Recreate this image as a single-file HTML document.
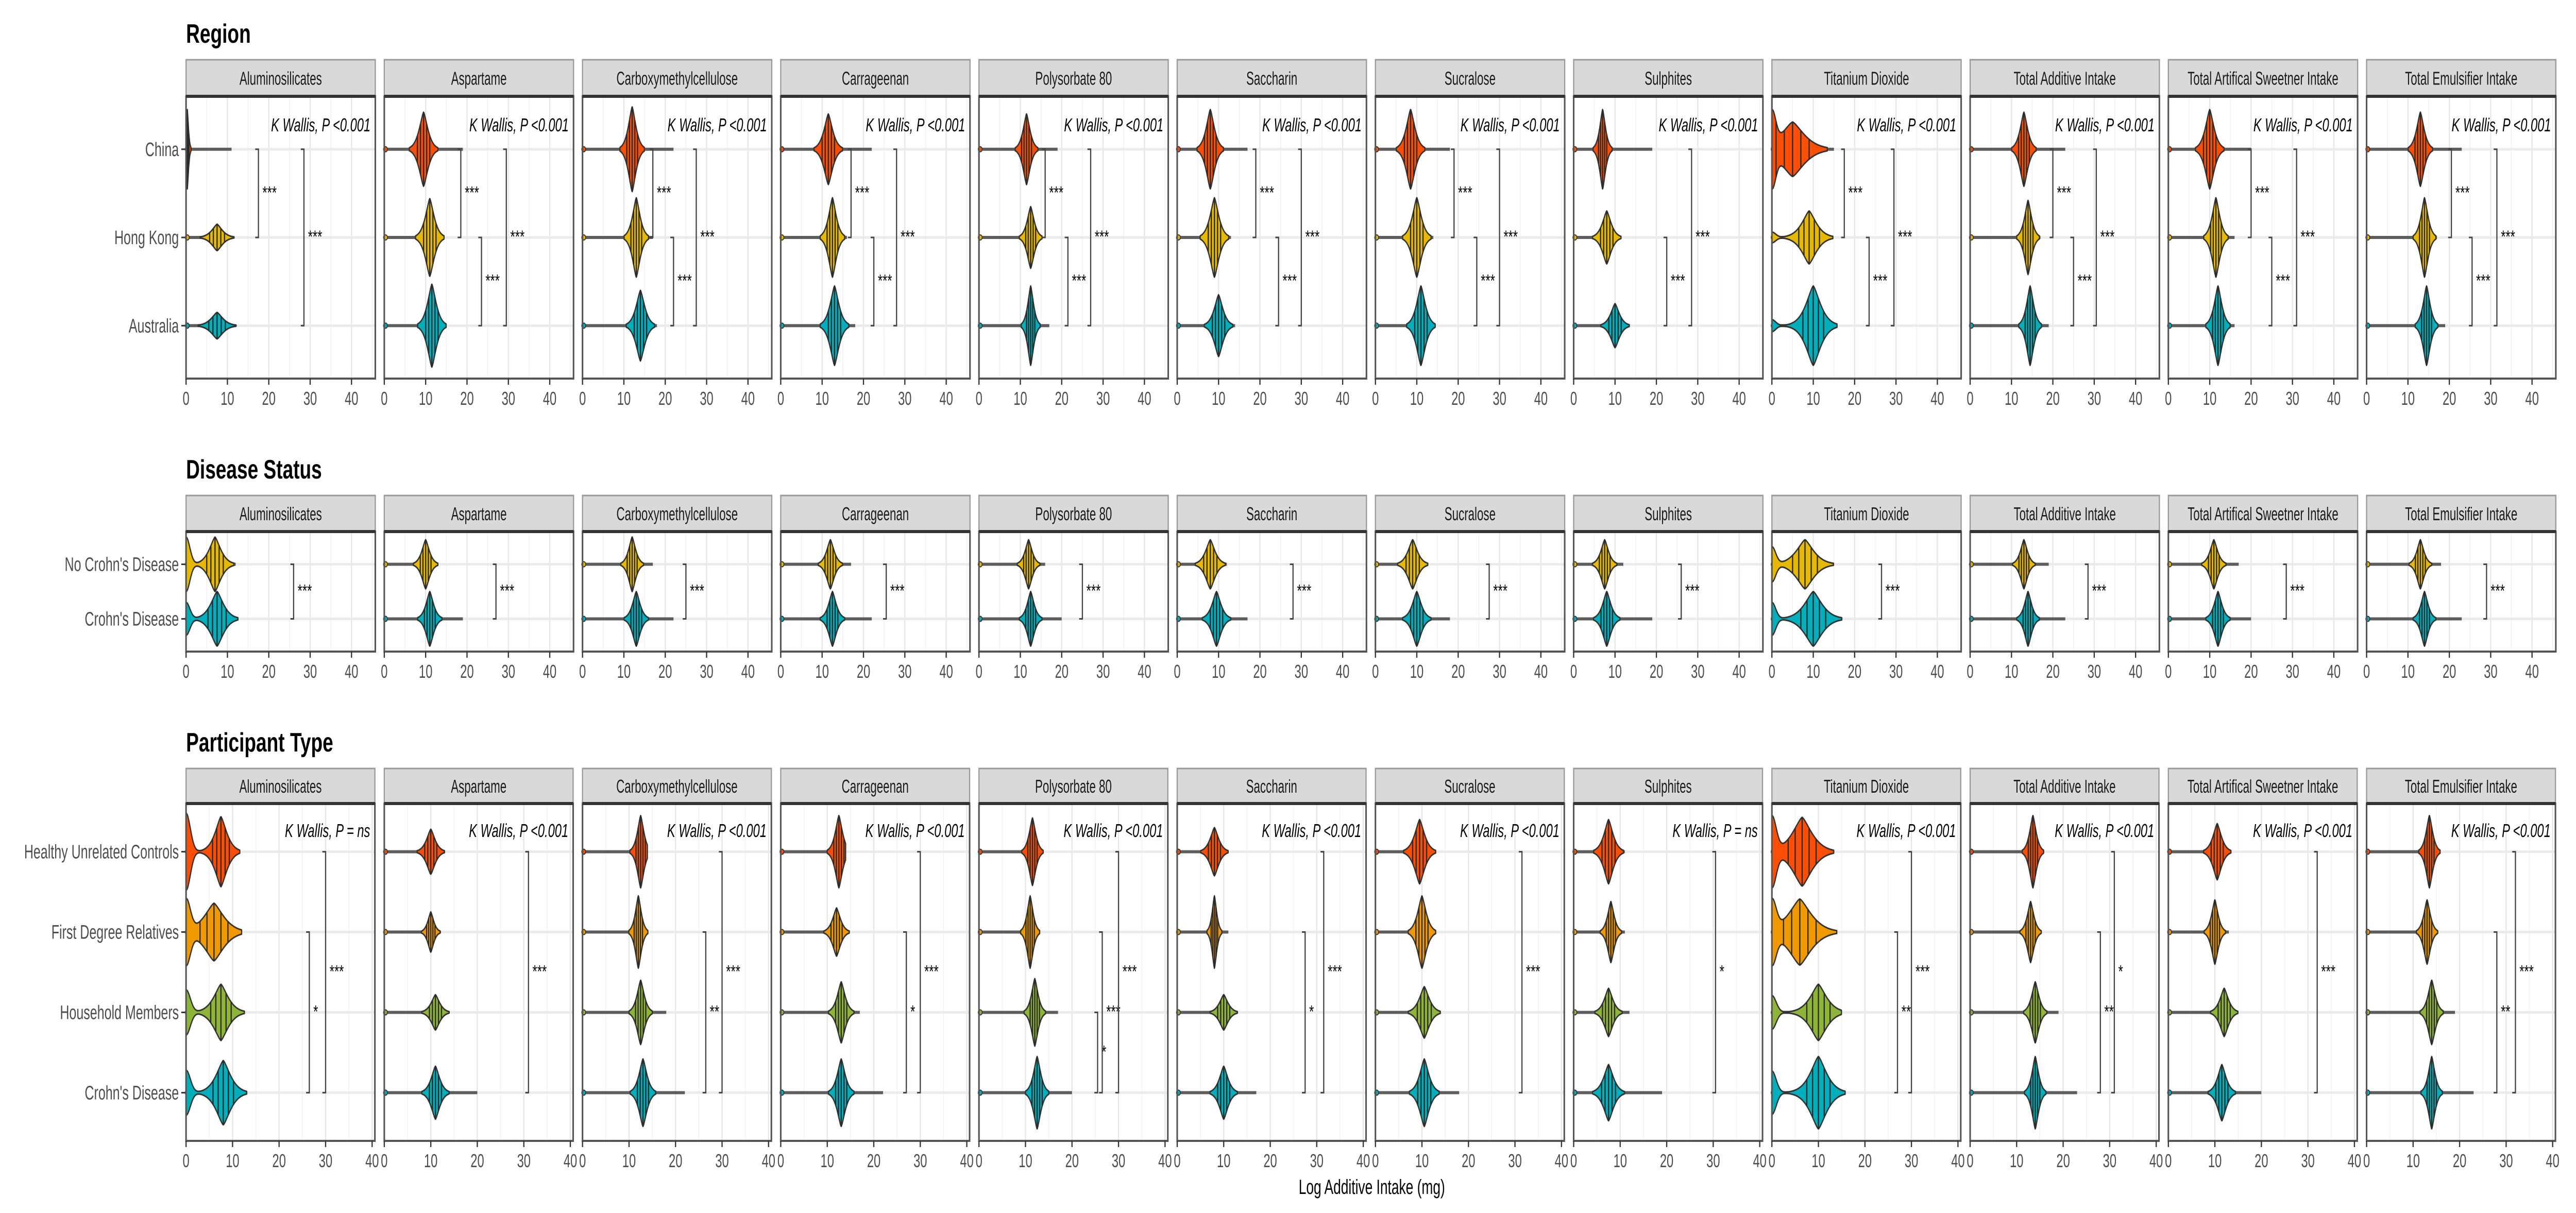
<!DOCTYPE html>
<html><head><meta charset="utf-8"><title>Additive intake violins</title>
<style>
html,body{margin:0;padding:0;background:#fff;width:100%;height:100%;overflow:hidden;}
svg{display:block;width:100vw;height:100vh;font-family:"Liberation Sans",Arial,sans-serif;}
</style></head>
<body>
<svg id="chart" viewBox="0 0 6452 2355" preserveAspectRatio="none" xmlns="http://www.w3.org/2000/svg"></svg>
<script>
// ---------- data ----------
const additives = ["Aluminosilicates","Aspartame","Carboxymethylcellulose","Carrageenan","Polysorbate 80","Saccharin","Sucralose","Sulphites","Titanium Dioxide","Total Additive Intake","Total Artifical Sweetner Intake","Total Emulsifier Intake"];
const xTicks = [0,10,20,30,40];

const regionCats = ["China","Hong Kong","Australia"];
const regionCenters = [
  [0.3,9.5,12,11.5,11.5,8,8.5,7,5,13,10,13],
  [7.5,11,13,12.5,12.5,9,10,8,9,14,11.5,14],
  [7.5,11.5,14,13,12.5,10,11,10,10,14.5,12,14.5]];
const regionSpreads = [
  [0.4,1.5,1.3,1.5,1.2,1.4,1.5,1.0,4,1.3,1.5,1.3],
  [1.8,1.5,1.3,1.3,1.2,1.5,1.5,1.5,2.5,1.2,1.3,1.2],
  [2,1.5,1.5,1.5,1.0,1.5,1.5,1.5,2.5,1.2,1.3,1.2]];
const regionHeights = [
  [0.45,0.42,0.48,0.4,0.4,0.45,0.45,0.45,0.45,0.42,0.45,0.42],
  [0.15,0.44,0.45,0.45,0.35,0.45,0.45,0.3,0.3,0.42,0.45,0.45],
  [0.15,0.47,0.4,0.45,0.45,0.35,0.45,0.25,0.45,0.45,0.45,0.45]];
const regionZero = [
  [0,0,0,0,0,0,0,0,1.2,0,0,0],
  [0,0,0,0,0,0,0,0,0.2,0,0,0],
  [0,0,0,0,0,0,0,0,0.15,0,0,0]];
const regionTails = [
  [11,19,22,22,19,17,18,19,15,23,20,23],
  [10,13,17,16,15,13,14,11,13,17,16,17],
  [12,14,18,18,17,14,14,13,13,19,16,19]];
const regionBracketPairs = [[0,1],[1,2],[0,2]];
const regionBracketX = [
  [17.5,null,28.5],[18.5,23.5,29.5],[17,22,27.5],[17,22.5,28],[16,21.5,27],[19,24.5,30],
  [19,24.5,30],[null,22.5,28.5],[17.5,23.5,29.5],[20,25,30.5],[20,25,31],[20.5,25.5,31.5]];
const regionKW = ["<0.001","<0.001","<0.001","<0.001","<0.001","<0.001","<0.001","<0.001","<0.001","<0.001","<0.001","<0.001"];

const diseaseCats = ["No Crohn's Disease","Crohn's Disease"];
const diseaseCenters = [
  [7,10,12,12,12,8,9,7.5,8,13,11,13],
  [7.5,11,13,12.5,12.5,9.5,10,8,10,14,12,14]];
const diseaseSpreads = [
  [2,1.3,1.2,1.3,1.2,1.6,1.6,1.3,3,1.2,1.3,1.2],
  [2.2,1.3,1.3,1.3,1.2,1.5,1.5,1.4,3,1.2,1.3,1.2]];
const diseaseHeights = [
  [0.5,0.45,0.5,0.45,0.45,0.45,0.45,0.45,0.45,0.45,0.45,0.45],
  [0.5,0.5,0.5,0.5,0.5,0.5,0.5,0.5,0.5,0.5,0.5,0.5]];
const diseaseZero = [
  [1.0,0,0,0,0,0,0,0,0.7,0,0,0],
  [0.6,0,0,0,0,0,0,0,0.6,0,0,0]];
const diseaseTails = [
  [12,13,17,17,16,12,12,12,13,19,17,18],
  [11,19,22,22,20,17,18,19,14,23,20,23]];
const diseaseBracketX = [26,27,25,25.5,25,28,27.5,26,26.5,28.5,28.5,29];

const partCats = ["Healthy Unrelated Controls","First Degree Relatives","Household Members","Crohn's Disease"];
const partCenters = [
  [7.5,10,12.5,12.5,11.5,8,9.5,7.5,6.5,13.5,10.5,13.5],
  [6,10,12,12,11,8,10,8,6,13,10,13],
  [7.5,11,12.5,13,12,10,10.5,7.5,10,14,12,14],
  [8,11,13,13,12.5,10,10.5,7.5,10,14,11.5,14]];
const partSpreads = [
  [1.8,1.3,1.0,1.1,1.0,1.3,1.5,1.4,3,1.0,1.3,1.0],
  [3,0.9,0.9,1.2,0.9,0.7,1.3,1.0,3.5,1.0,1.0,1.0],
  [2.2,1.3,1.1,1.2,1.0,1.3,1.5,1.3,2.5,1.1,1.3,1.1],
  [2.2,1.3,1.2,1.2,1.1,1.3,1.4,1.5,2.5,1.0,1.3,1.0]];
const partHeights = [
  [0.48,0.28,0.45,0.45,0.42,0.3,0.4,0.4,0.45,0.45,0.35,0.45],
  [0.42,0.25,0.45,0.3,0.45,0.45,0.45,0.38,0.42,0.38,0.4,0.4],
  [0.35,0.22,0.4,0.38,0.42,0.22,0.32,0.3,0.35,0.38,0.3,0.4],
  [0.4,0.33,0.42,0.42,0.45,0.33,0.42,0.35,0.45,0.45,0.35,0.45]];
const partZero = [
  [1.1,0,0,0,0,0,0,0,1.0,0,0,0],
  [1.1,0,0,0,0,0,0,0,0.9,0,0,0],
  [0.8,0,0,0,0,0,0,0,0.6,0,0,0],
  [0.7,0,0,0,0,0,0,0,0.6,0,0,0]];
const partTails = [
  [10,13,11,11,11,10,11,11,11,15,12,15],
  [9,12,12,12,12,11,12,11,11,15,13,15],
  [12,13,18,17,17,12,12,12,12,19,14,19],
  [11,20,22,22,20,17,18,19,13,23,20,23]];
const partBrackets = [
  [[1,3,26.5,"*"],[0,3,30,"***"]],
  [[0,3,31,"***"]],
  [[1,3,26.5,"**"],[0,3,30,"***"]],
  [[1,3,27,"*"],[0,3,30,"***"]],
  [[2,3,25.5,"*"],[1,3,26.5,"***"],[0,3,30,"***"]],
  [[1,3,27.5,"*"],[0,3,31.5,"***"]],
  [[0,3,31.5,"***"]],
  [[0,3,30.5,"*"]],
  [[1,3,27,"**"],[0,3,30,"***"]],
  [[1,3,28,"**"],[0,3,31,"*"]],
  [[0,3,32,"***"]],
  [[1,3,28,"**"],[0,3,32,"***"]]];
const partKW = ["= ns","<0.001","<0.001","<0.001","<0.001","<0.001","<0.001","= ns","<0.001","<0.001","<0.001","<0.001"];

// ---------- drawing ----------
const NS = "http://www.w3.org/2000/svg";
const svg = document.getElementById("chart");
function mk(tag, attrs, parent){
  const e = document.createElementNS(NS, tag);
  for (const k in attrs) e.setAttribute(k, attrs[k]);
  (parent||svg).appendChild(e);
  return e;
}
function txt(str, x, y, size, opts, parent){
  opts = opts||{};
  const g = mk("g", {transform:`translate(${x},${y}) scale(${opts.sx||0.85},1)`}, parent);
  const t = mk("text", {x:0, y:0, "font-size":size, fill:opts.fill||"#000",
    "text-anchor":opts.anchor||"start", "font-weight":opts.weight||"normal",
    "font-style":opts.style||"normal"}, g);
  t.textContent = str;
  return t;
}

const PANEL_X0 = 466, PANEL_PITCH = 496.5;

function drawSection(cfg){
  const n = cfg.cats.length;
  const H = cfg.plotBot - cfg.plotTop;
  const unit = H/(n+0.2);
  const yOf = i => cfg.plotTop + (i+0.6)*unit;
  const sec = mk("g", {});
  
  

  const tt = txt(cfg.title, PANEL_X0, cfg.titleY, 52, {weight:"bold", sx:0.92}, sec);
  
  

  cfg.cats.forEach((c,i)=>{
    const t = txt(c, 448, yOf(i)+13, 38, {anchor:"end", fill:"#4D4D4D"}, sec);
    
    
    mk("line",{x1:454,x2:466,y1:yOf(i),y2:yOf(i),stroke:"#333","stroke-width":3},sec);
  });

  additives.forEach((add, p)=>{
    const L = PANEL_X0 + p*PANEL_PITCH, W = cfg.W;
    const X = v => L + v/cfg.xmax*W;
    const pg = mk("g", {}, sec);
    
    

    const strip = mk("rect",{x:L,y:cfg.stripTop,width:W,height:cfg.plotTop-cfg.stripTop,fill:"#D9D9D9",stroke:"#9A9A9A","stroke-width":3},pg);
    
    
    const st = txt(add, L+W/2, (cfg.stripTop+cfg.plotTop)/2+13, 36, {anchor:"middle", fill:"#1A1A1A", sx:0.8}, pg);
    
    

    mk("rect",{x:L,y:cfg.plotTop,width:W,height:H,fill:"#fff"},pg);
    for (let v=5; v<cfg.xmax; v+=10) mk("line",{x1:X(v),x2:X(v),y1:cfg.plotTop,y2:cfg.plotBot,stroke:"#F2F2F2","stroke-width":2},pg);
    xTicks.forEach(v=>mk("line",{x1:X(v),x2:X(v),y1:cfg.plotTop,y2:cfg.plotBot,stroke:"#E6E6E6","stroke-width":3},pg));
    cfg.cats.forEach((c,i)=>mk("line",{x1:L,x2:L+W,y1:yOf(i),y2:yOf(i),stroke:"#EBEBEB","stroke-width":5},pg));

    cfg.cats.forEach((c,i)=>{
      const cc = cfg.centers[i][p], s = cfg.spreads[i][p], h = cfg.heights[i][p]*unit;
      const z = cfg.zero[i][p], hi = cfg.tails[i][p], yc = yOf(i);
      const col = cfg.colors[i];
      const vg = mk("g",{},pg);
      
      
      mk("line",{x1:X(0),x2:X(hi),y1:yc,y2:yc,stroke:"#444","stroke-width":6,"stroke-opacity":0.85},vg);
      mk("circle",{cx:X(0)+3,cy:yc,r:5,fill:col,stroke:"#333","stroke-width":2},vg);
      const step = 0.05, xs=[], gs=[];
      let mx = 0;
      const dens = v => Math.exp(-Math.pow(Math.abs(v-cc)/s,1.4)) + z*Math.exp(-Math.pow(v/1.3,2));
      for (let v=0; v<=hi+3; v+=step){
        const g = dens(v);
        xs.push(v); gs.push(g); if (g>mx) mx=g;
      }
      let a=-1,b=-1;
      gs.forEach((g,k)=>{ if (g/mx>0.04){ if(a<0)a=k; b=k; } });
      if (a<0) return;
      let up="", dn="";
      for (let k=a;k<=b;k++){ up += (k===a?"M":"L")+X(xs[k]).toFixed(1)+","+(yc-gs[k]/mx*h).toFixed(1); }
      for (let k=b;k>=a;k--){ dn += "L"+X(xs[k]).toFixed(1)+","+(yc+gs[k]/mx*h).toFixed(1); }
      mk("path",{d:up+dn+"Z",fill:col,stroke:"#333","stroke-width":3,"stroke-linejoin":"round"},vg);
      [-1,-0.5,0,0.5,1].forEach(q=>{
        const v = cc + q*s;
        if (v < xs[a] || v > xs[b]) return;
        const g = dens(v)/mx*h;
        mk("line",{x1:X(v),x2:X(v),y1:yc-g,y2:yc+g,stroke:"#2a2a2a","stroke-width":3},vg);
      });
    });

    cfg.brackets(p).forEach(br=>{
      const [ca,cb,xv,lab] = br;
      const y1 = yOf(ca), y2 = yOf(cb), xx = X(xv);
      const bg = mk("g",{},pg);
      
      
      mk("path",{d:`M${xx-8},${y1} L${xx},${y1} L${xx},${y2} L${xx-8},${y2}`,fill:"none",stroke:"#444","stroke-width":3},bg);
      txt(lab, xx+10, (y1+y2)/2+10, 34, {sx:0.9}, bg);
    });

    if (cfg.kw){
      const k = txt("K Wallis, P "+cfg.kw[p], L+W-12, cfg.kwY, 36, {anchor:"end", style:"italic", sx:0.85}, pg);
      
      
    }

    mk("rect",{x:L,y:cfg.plotTop,width:W,height:H,fill:"none",stroke:"#555","stroke-width":4},pg);
    mk("line",{x1:L,x2:L+W,y1:cfg.plotTop,y2:cfg.plotTop,stroke:"#333","stroke-width":6},pg);

    xTicks.forEach(v=>{
      mk("line",{x1:X(v),x2:X(v),y1:cfg.plotBot,y2:cfg.plotBot+12,stroke:"#333","stroke-width":3},pg);
      const t = txt(String(v), X(v), cfg.plotBot+51, 36, {anchor:"middle", fill:"#4D4D4D", sx:0.85}, pg);
      
      
    });
  });
}

drawSection({name:"region-section", title:"Region", titleY:83, stripTop:116, plotTop:187, plotBot:735,
  W:474, xmax:45.75, cats:regionCats, colors:["#FC4E07","#E7B800","#00AFBB"],
  centers:regionCenters, spreads:regionSpreads, heights:regionHeights, zero:regionZero, tails:regionTails,
  brackets:p=>regionBracketX[p].map((x,k)=>x==null?null:[regionBracketPairs[k][0],regionBracketPairs[k][1],x,"***"]).filter(Boolean),
  kw:regionKW, kwY:255});

drawSection({name:"disease-status-section", title:"Disease Status", titleY:929, stripTop:962, plotTop:1032, plotBot:1265,
  W:474, xmax:45.75, cats:diseaseCats, colors:["#E7B800","#00AFBB"],
  centers:diseaseCenters, spreads:diseaseSpreads, heights:diseaseHeights, zero:diseaseZero, tails:diseaseTails,
  brackets:p=>[[0,1,diseaseBracketX[p],"***"]], kw:null});

drawSection({name:"participant-type-section", title:"Participant Type", titleY:1459, stripTop:1492, plotTop:1560, plotBot:2215,
  W:473, xmax:40.6, cats:partCats, colors:["#FC4E07","#F09800","#8FB43A","#00AFBB"],
  centers:partCenters, spreads:partSpreads, heights:partHeights, zero:partZero, tails:partTails,
  brackets:p=>partBrackets[p], kw:partKW, kwY:1625});

const at = txt("Log Additive Intake (mg)", 3436, 2318, 40, {anchor:"middle", sx:0.85});


</script>
</body></html>
